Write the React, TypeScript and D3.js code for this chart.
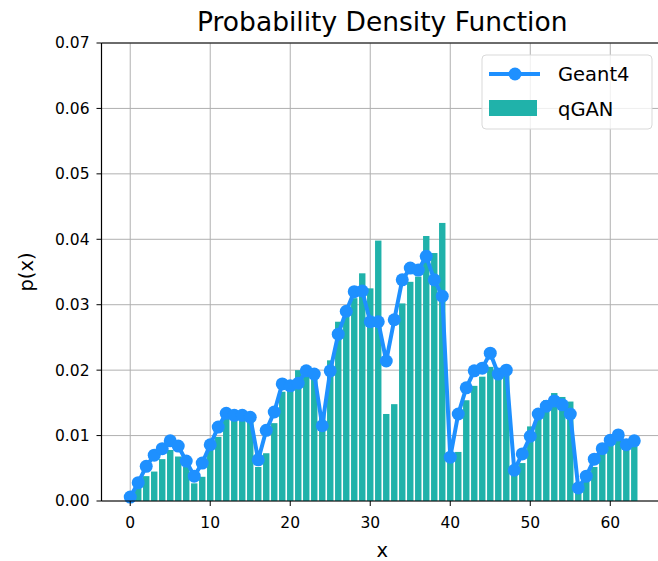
import { useEffect, useRef } from 'react'
import * as d3 from 'd3'

// bin index 0..63
const bins: number[] = d3.range(64)

const geant4: number[] = [
  0.0006, 0.0028, 0.0053, 0.0070, 0.0080, 0.0092, 0.0084, 0.0061, 0.0038, 0.0058,
  0.0086, 0.0113, 0.0134, 0.0131, 0.0131, 0.0128, 0.0063, 0.0108, 0.0136, 0.0179,
  0.0176, 0.0180, 0.0199, 0.0194, 0.0115, 0.0199, 0.0255, 0.0290, 0.0320, 0.0321,
  0.0274, 0.0274, 0.0214, 0.0277, 0.0338, 0.0356, 0.0353, 0.0374, 0.0338, 0.0313,
  0.0067, 0.0133, 0.0173, 0.0199, 0.0203, 0.0226, 0.0194, 0.0200, 0.0047, 0.0072,
  0.0099, 0.0133, 0.0145, 0.0153, 0.0147, 0.0133, 0.0020, 0.0038, 0.0064, 0.0080,
  0.0093, 0.0101, 0.0086, 0.0092,
]

const qgan: number[] = [
  0.0004, 0.0020, 0.0038, 0.0045, 0.0064, 0.0078, 0.0068, 0.0052, 0.0027, 0.0037,
  0.0078, 0.0098, 0.0142, 0.0137, 0.0131, 0.0127, 0.0052, 0.0073, 0.0119, 0.0167,
  0.0182, 0.0200, 0.0205, 0.0200, 0.0135, 0.0215, 0.0274, 0.0290, 0.0310, 0.0348,
  0.0325, 0.0398, 0.0133, 0.0148, 0.0302, 0.0335, 0.0343, 0.0405, 0.0379, 0.0425,
  0.0068, 0.0075, 0.0154, 0.0176, 0.0190, 0.0205, 0.0190, 0.0192, 0.0047, 0.0058,
  0.0114, 0.0129, 0.0154, 0.0165, 0.0159, 0.0152, 0.0022, 0.0037, 0.0052, 0.0073,
  0.0090, 0.0101, 0.0093, 0.0090,
]

const xTicks = [0, 10, 20, 30, 40, 50, 60]
const yTicks = [0, 0.01, 0.02, 0.03, 0.04, 0.05, 0.06, 0.07]

const W = 658
const H = 561
const FONT = 'DejaVu Sans, sans-serif'
const BLUE = '#1e90ff'
const SEA = '#20b2aa'

export default function App() {
  const svgRef = useRef<SVGSVGElement>(null)

  useEffect(() => {
    if (!svgRef.current) return
    const svg = d3.select(svgRef.current)
    svg.selectAll('*').remove()

    const left = 101.5
    const right = 663
    const top = 43
    const bottom = 501

    const x = d3.scaleLinear().domain([-3.59, 66.59]).range([left, right])
    const y = d3.scaleLinear().domain([0, 0.07]).range([bottom, top])

    // grid
    const grid = svg.append('g').attr('stroke', '#b0b0b0').attr('stroke-width', 1)
    xTicks.forEach(t => {
      grid.append('line').attr('x1', x(t)).attr('x2', x(t)).attr('y1', top).attr('y2', bottom)
    })
    yTicks.forEach(t => {
      grid.append('line').attr('x1', left).attr('x2', right).attr('y1', y(t)).attr('y2', y(t))
    })

    // qGAN bars
    const bw = x(0.8) - x(0)
    svg.append('g')
      .selectAll('rect')
      .data(bins)
      .enter()
      .append('rect')
      .attr('x', i => x(i - 0.4))
      .attr('y', i => y(qgan[i]))
      .attr('width', bw)
      .attr('height', i => bottom - y(qgan[i]))
      .attr('fill', SEA)

    // Geant4 line
    const line = d3.line<number>()
      .x(i => x(i))
      .y(i => y(geant4[i]))
    svg.append('path')
      .datum(bins)
      .attr('fill', 'none')
      .attr('stroke', BLUE)
      .attr('stroke-width', 4)
      .attr('stroke-linejoin', 'round')
      .attr('d', line)

    svg.append('g')
      .selectAll('circle')
      .data(bins)
      .enter()
      .append('circle')
      .attr('cx', i => x(i))
      .attr('cy', i => y(geant4[i]))
      .attr('r', 6.5)
      .attr('fill', BLUE)

    // spines
    const sp = svg.append('g').attr('stroke', '#000').attr('stroke-width', 1.2)
    sp.append('line').attr('x1', left).attr('x2', left).attr('y1', top).attr('y2', bottom)
    sp.append('line').attr('x1', left).attr('x2', right).attr('y1', bottom).attr('y2', bottom)
    sp.append('line').attr('x1', left).attr('x2', right).attr('y1', top).attr('y2', top)

    // x axis
    const xa = svg.append('g')
    xTicks.forEach(t => {
      xa.append('line').attr('x1', x(t)).attr('x2', x(t)).attr('y1', bottom).attr('y2', bottom + 5)
        .attr('stroke', '#000').attr('stroke-width', 1)
      xa.append('text').attr('x', x(t)).attr('y', bottom + 27)
        .attr('text-anchor', 'middle').attr('font-family', FONT).attr('font-size', 15.5)
        .attr('fill', '#000').text(String(t))
    })

    // y axis
    const ya = svg.append('g')
    yTicks.forEach(t => {
      ya.append('line').attr('x1', left - 5).attr('x2', left).attr('y1', y(t)).attr('y2', y(t))
        .attr('stroke', '#000').attr('stroke-width', 1)
      ya.append('text').attr('x', left - 12).attr('y', y(t)).attr('dy', '0.35em')
        .attr('text-anchor', 'end').attr('font-family', FONT).attr('font-size', 15.5)
        .attr('fill', '#000').text(d3.format('.2f')(t))
    })

    // labels
    svg.append('text').attr('x', (left + right) / 2).attr('y', 557)
      .attr('text-anchor', 'middle').attr('font-family', FONT).attr('font-size', 19.5)
      .text('x')
    svg.append('text')
      .attr('transform', `translate(33,${(top + bottom) / 2}) rotate(-90)`)
      .attr('text-anchor', 'middle').attr('font-family', FONT).attr('font-size', 19.5)
      .text('p(x)')
    svg.append('text').attr('x', (left + right) / 2).attr('y', 31)
      .attr('text-anchor', 'middle').attr('font-family', FONT).attr('font-size', 26.5)
      .text('Probability Density Function')

    // legend
    const lg = svg.append('g').attr('transform', 'translate(482,55)')
    lg.append('rect').attr('x', 0).attr('y', 0).attr('width', 170).attr('height', 74)
      .attr('rx', 4).attr('fill', '#fff').attr('fill-opacity', 0.8)
      .attr('stroke', '#d9d9d9').attr('stroke-width', 1)
    lg.append('line').attr('x1', 7).attr('x2', 58).attr('y1', 19).attr('y2', 19)
      .attr('stroke', BLUE).attr('stroke-width', 4)
    lg.append('circle').attr('cx', 33).attr('cy', 19).attr('r', 6.5).attr('fill', BLUE)
    lg.append('text').attr('x', 76).attr('y', 19).attr('dy', '0.35em')
      .attr('font-family', FONT).attr('font-size', 19.5).text('Geant4')
    lg.append('rect').attr('x', 7).attr('y', 45).attr('width', 48).attr('height', 16)
      .attr('fill', SEA)
    lg.append('text').attr('x', 76).attr('y', 54).attr('dy', '0.35em')
      .attr('font-family', FONT).attr('font-size', 19.5).text('qGAN')
  }, [])

  return (
    <div style={{ position: 'fixed', left: 0, top: 0 }}>
      <svg ref={svgRef} width={W} height={H} style={{ display: 'block', background: '#fff' }} />
    </div>
  )
}
